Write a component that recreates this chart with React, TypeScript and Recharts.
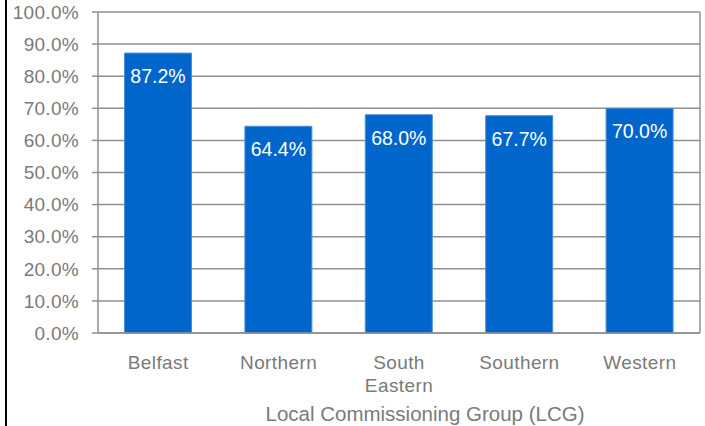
import { BarChart, Bar, XAxis, YAxis, CartesianGrid, LabelList } from 'recharts';

const categories = ['Belfast', 'Northern', 'South Eastern', 'Southern', 'Western'];
const rates = [87.2, 64.4, 68.0, 67.7, 70.0];
const yTicks = [0, 10, 20, 30, 40, 50, 60, 70, 80, 90, 100];
const edgeTicks = [0, 1, 2, 3, 4, 5];

const data = categories.map((name, i) => ({ name, rate: rates[i] }));

const GREY = '#909090';
const TEXT = '#7a7a7a';
const FONT = '"Liberation Sans", Arial, sans-serif';

const CategoryTick = ({ x, y, payload }: any) => {
  const lines = String(payload.value).split(' ');
  return (
    <text
      x={x}
      y={y + 33}
      textAnchor="middle"
      fill={TEXT}
      fontSize={19}
      fontFamily={FONT}
      letterSpacing={0.4}
    >
      {lines.map((line, i) => (
        <tspan key={i} x={x} dy={i === 0 ? 0 : 23}>
          {line}
        </tspan>
      ))}
    </text>
  );
};

export default function App() {
  return (
    <div style={{ position: 'absolute', left: 0, top: 0, width: 705, height: 426, background: '#fff' }}>
      <div style={{ position: 'absolute', left: 5, top: 0, width: 2, height: 426, background: '#000' }} />
      <BarChart
        width={705}
        height={426}
        data={data}
        margin={{ top: 12, right: 0, bottom: 0, left: 0 }}
        barCategoryGap="22%"
      >
        <CartesianGrid vertical={false} stroke={GREY} strokeWidth={1.5} xAxisId="b_cat" />
        <XAxis
          xAxisId="a_edges"
          type="number"
          domain={[0, 5]}
          ticks={edgeTicks}
          tick={false}
          tickSize={6}
          height={1}
          axisLine={{ stroke: GREY, strokeWidth: 1.5 }}
          tickLine={{ stroke: GREY, strokeWidth: 1.5 }}
        />
        <XAxis
          xAxisId="b_cat"
          dataKey="name"
          height={92}
          axisLine={false}
          tickLine={false}
          tickSize={0}
          tick={<CategoryTick />}
          interval={0}
          label={{
            value: 'Local Commissioning Group (LCG)',
            position: 'insideBottom',
            offset: 5,
            dx: 26,
            fill: TEXT,
            fontSize: 20.5,
            fontFamily: FONT,
          }}
        />
        <YAxis
          domain={[0, 100]}
          ticks={yTicks}
          width={98}
          tickSize={6}
          tickMargin={13}
          tickFormatter={(v: number) => `${v.toFixed(1)}%`}
          tick={{ fill: TEXT, fontSize: 19, fontFamily: FONT, letterSpacing: 0.3 }}
          axisLine={{ stroke: GREY, strokeWidth: 1.5 }}
          tickLine={{ stroke: GREY, strokeWidth: 1.5 }}
        />
        <YAxis
          yAxisId="right"
          orientation="right"
          width={5}
          tick={false}
          tickLine={false}
          axisLine={{ stroke: GREY, strokeWidth: 1.5 }}
        />
        <Bar
          dataKey="rate"
          xAxisId="b_cat"
          fill="#0066CC"
          stroke="#4a8fd8"
          strokeWidth={1}
          isAnimationActive={false}
        >
          <LabelList
            dataKey="rate"
            position="insideTop"
            offset={16}
            formatter={(v: any) => `${Number(v).toFixed(1)}%`}
            fill="#ffffff"
            fontSize={19.5}
            fontFamily={FONT}
          />
        </Bar>
      </BarChart>
    </div>
  );
}
